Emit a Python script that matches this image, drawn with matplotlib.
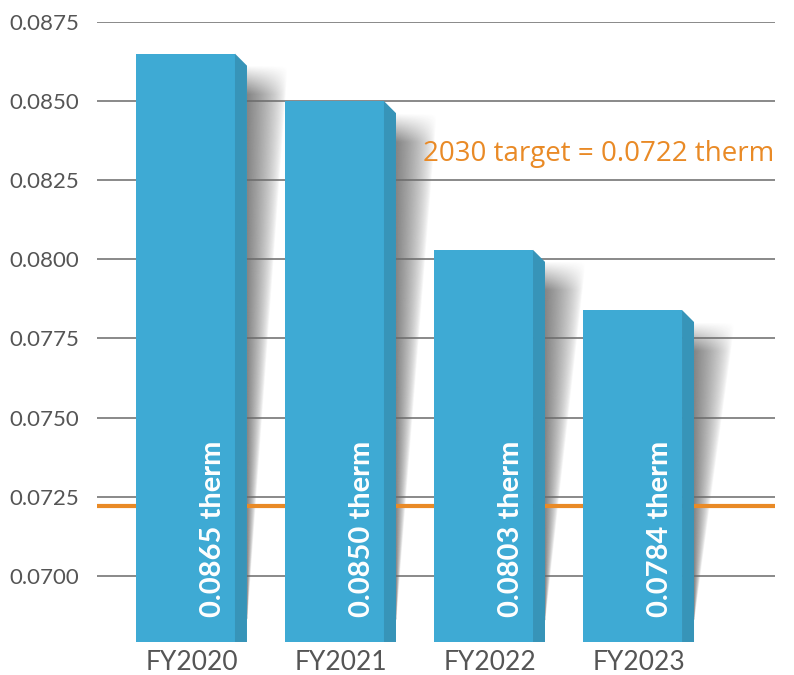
import numpy as np
import matplotlib
matplotlib.use("Agg")
import matplotlib.pyplot as plt
from matplotlib.patches import Polygon

# Data
years = ["FY2020", "FY2021", "FY2022", "FY2023"]
therms = [0.0865, 0.0850, 0.0803, 0.0784]
bar_labels = ["0.0865 therm", "0.0850 therm", "0.0803 therm", "0.0784 therm"]
target = 0.0722
target_label = "2030 target = 0.0722 therm"
y_ticks = [0.0700, 0.0725, 0.0750, 0.0775, 0.0800, 0.0825, 0.0850, 0.0875]

FRONT = "#3eaad4"
SIDE = "#3794b8"
ORANGE = "#e98a26"
TEXT = "#555555"
GRID = "#6a6a6a"

fig = plt.figure(figsize=(7.94, 6.75), dpi=100)
ax = fig.add_axes([97 / 794, 33 / 675, 678 / 794, 620 / 675])

ymin, ymax = 0.06791, 0.0875
xmin, xmax = -0.594, 3.956
front_w = 0.664
side_w = 0.0805
side_drop = 0.00038
shadow_w = 0.27
shadow_end = 0.0686
fade_len = 0.0009

x = np.arange(len(years))

# Soft drop shadows to the right of each bar
for xi, v in zip(x, therms):
    x0 = xi + front_w / 2 + side_w
    y_top = v - side_drop
    nx, ny = 120, 400
    xs = np.linspace(0, shadow_w, nx)
    ys = np.linspace(y_top, ymin, ny)
    X, Y = np.meshgrid(xs, ys)
    t = np.clip((Y - shadow_end) / (y_top - shadow_end), 0, 1)
    w = shadow_w * t
    safe_w = np.where(w > 0, w, 1)
    a = np.where(w > 0, np.clip(1 - X / safe_w, 0, 1), 0)
    a = a ** 0.7
    top_fade = np.clip((y_top - Y) / fade_len, 0, 1)
    a = a * top_fade * 0.6
    img = np.zeros((ny, nx, 4))
    img[..., :3] = 0.2
    img[..., 3] = a
    ax.imshow(img, extent=[x0, x0 + shadow_w, ymin, y_top], origin="upper",
              aspect="auto", zorder=0.3, interpolation="bilinear")

# Target line
ax.axhline(target, color=ORANGE, lw=3.0, zorder=2)
ax.text(1.594, 0.08332, target_label, color=ORANGE, fontsize=20,
        family=["Open Sans", "DejaVu Sans"], ha="left", va="center", zorder=5)

# Bars: front face plus darker slanted side face
ax.bar(x, therms, width=front_w, bottom=0, color=FRONT, zorder=3, linewidth=0)
for xi, v in zip(x, therms):
    xr = xi + front_w / 2
    side = Polygon([(xr, v), (xr + side_w, v - side_drop),
                    (xr + side_w, ymin), (xr, ymin)],
                   closed=True, facecolor=SIDE, edgecolor="none", zorder=3)
    ax.add_patch(side)

# Value labels inside the bars
for xi, lab in zip(x, bar_labels):
    ax.text(xi + 0.185, 0.06870, lab, rotation=90, color="white",
            fontsize=21, fontweight="bold",
            family=["Lato", "DejaVu Sans"],
            ha="center", va="bottom", zorder=6)

ax.set_xlim(xmin, xmax)
ax.set_ylim(ymin, ymax)
ax.set_yticks(y_ticks)
ax.set_yticklabels([f"{t:.4f}" for t in y_ticks])
ax.set_xticks(x + side_w / 2)
ax.set_xticklabels(years)
ax.tick_params(axis="y", length=0, pad=13, labelsize=16, labelcolor=TEXT)
ax.tick_params(axis="x", length=0, pad=6, labelsize=19, labelcolor=TEXT)
for lab in ax.get_yticklabels() + ax.get_xticklabels():
    lab.set_family(["Lato", "DejaVu Sans"])

ax.set_axisbelow(True)
ax.yaxis.grid(True, color=GRID, lw=1.1)
ax.xaxis.grid(False)
for s in ax.spines.values():
    s.set_visible(False)

fig.savefig("out.png", dpi=100, facecolor="white")
